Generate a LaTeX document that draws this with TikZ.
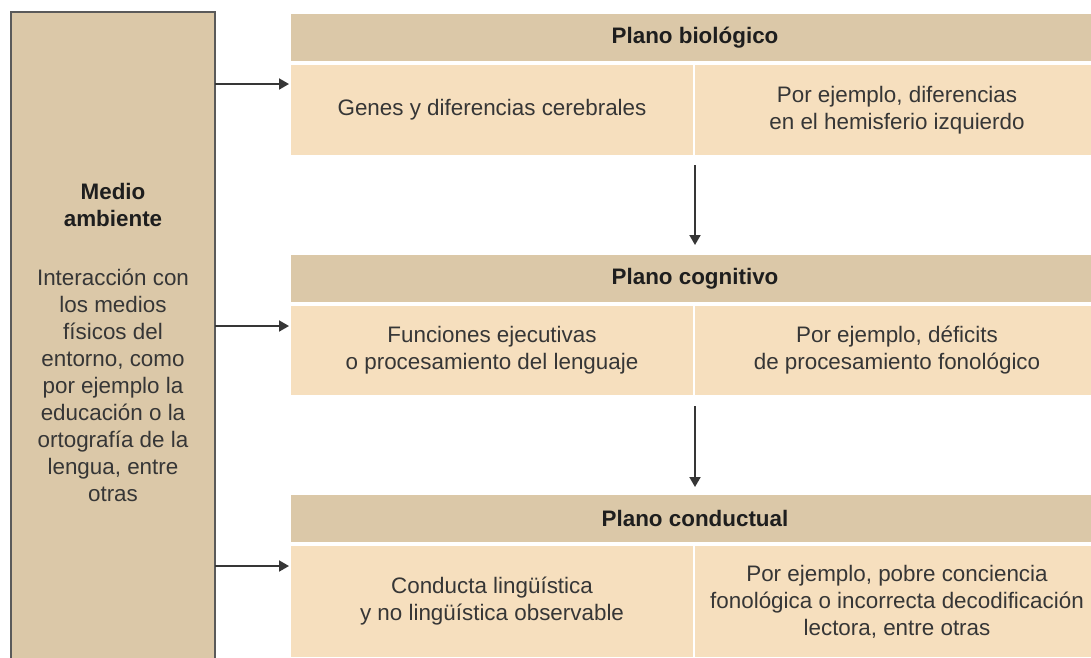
\documentclass[tikz,border=0pt]{standalone}
\usepackage{fontspec}
\setmainfont{Liberation Sans}
\usetikzlibrary{arrows.meta,calc}
\definecolor{tan}{HTML}{DBC8A8}
\definecolor{peach}{HTML}{F6DFBE}
\definecolor{edge}{HTML}{5A5A5A}
\definecolor{ink}{HTML}{363636}
\definecolor{titleink}{HTML}{1E1E1E}
\begin{document}
\begin{tikzpicture}[x=1pt,y=-1pt,
  txt/.style={font=\fontsize{22.4}{27}\selectfont},
  cell/.style={txt, anchor=north west, inner sep=0pt, outer sep=0pt,
    fill=peach, text=ink, align=center},
  head/.style={txt, anchor=north west, inner sep=0pt, outer sep=0pt,
    fill=tan, text=titleink, font=\fontsize{22.4}{27}\selectfont\bfseries,
    minimum width=808pt, minimum height=47pt},
  env/.style={txt, anchor=north west, inner sep=0pt, outer sep=0pt,
    fill=tan, draw=edge, line width=2pt, text=ink, align=center},
  arr/.style={draw=ink, line width=1.9pt, -{Triangle[length=10pt,width=11pt]}}]
\useasboundingbox (0,0) rectangle (1091,657);
\clip (0,0) rectangle (1091,657);
\fill[white] (0,0) rectangle (1091,657);

% environment column
\node[env, minimum width=204pt, minimum height=660pt] (medio) at (11,12)
  {{\color{titleink}\bfseries Medio}\\
   {\color{titleink}\bfseries ambiente}\\[32pt]
   Interacción con\\ los medios\\ físicos del\\ entorno, como\\
   por ejemplo la\\ educación o la\\ ortografía de la\\ lengua, entre\\ otras};

% biological level
\node[head] (bioH) at (291,14) {Plano biológico};
\node[cell, minimum width=402pt, minimum height=90pt] (bioL) at (291,65)
  {Genes y diferencias cerebrales};
\node[cell, minimum width=404pt, minimum height=90pt] (bioR) at (695,65)
  {Por ejemplo, diferencias\\ en el hemisferio izquierdo};

% cognitive level
\node[head] (cogH) at (291,255) {Plano cognitivo};
\node[cell, minimum width=402pt, minimum height=89pt] (cogL) at (291,306)
  {Funciones ejecutivas\\ o procesamiento del lenguaje};
\node[cell, minimum width=404pt, minimum height=89pt] (cogR) at (695,306)
  {Por ejemplo, déficits\\ de procesamiento fonológico};

% behavioural level
\node[head] (conH) at (291,495) {Plano conductual};
\node[cell, minimum width=402pt, minimum height=111pt] (conL) at (291,546)
  {Conducta lingüística\\ y no lingüística observable};
\node[cell, minimum width=404pt, minimum height=111pt] (conR) at (695,546)
  {Por ejemplo, pobre conciencia\\ fonológica o incorrecta decodificación\\ lectora, entre otras};

% arrows from the environment into each level
\coordinate (a1) at ($(bioL.north west)+(-2,19)$);
\coordinate (a2) at ($(cogL.north west)+(-2,20)$);
\coordinate (a3) at ($(conL.north west)+(-2,20)$);
\draw[arr] (medio.east |- a1) -- (a1);
\draw[arr] (medio.east |- a2) -- (a2);
\draw[arr] (medio.east |- a3) -- (a3);

% arrows between levels
\draw[arr] ($(bioR.south west)+(0,10)$) -- ($(cogH.north)+(0,-10)$);
\draw[arr] ($(cogR.south west)+(0,11)$) -- ($(conH.north)+(0,-8)$);
\end{tikzpicture}
\end{document}
